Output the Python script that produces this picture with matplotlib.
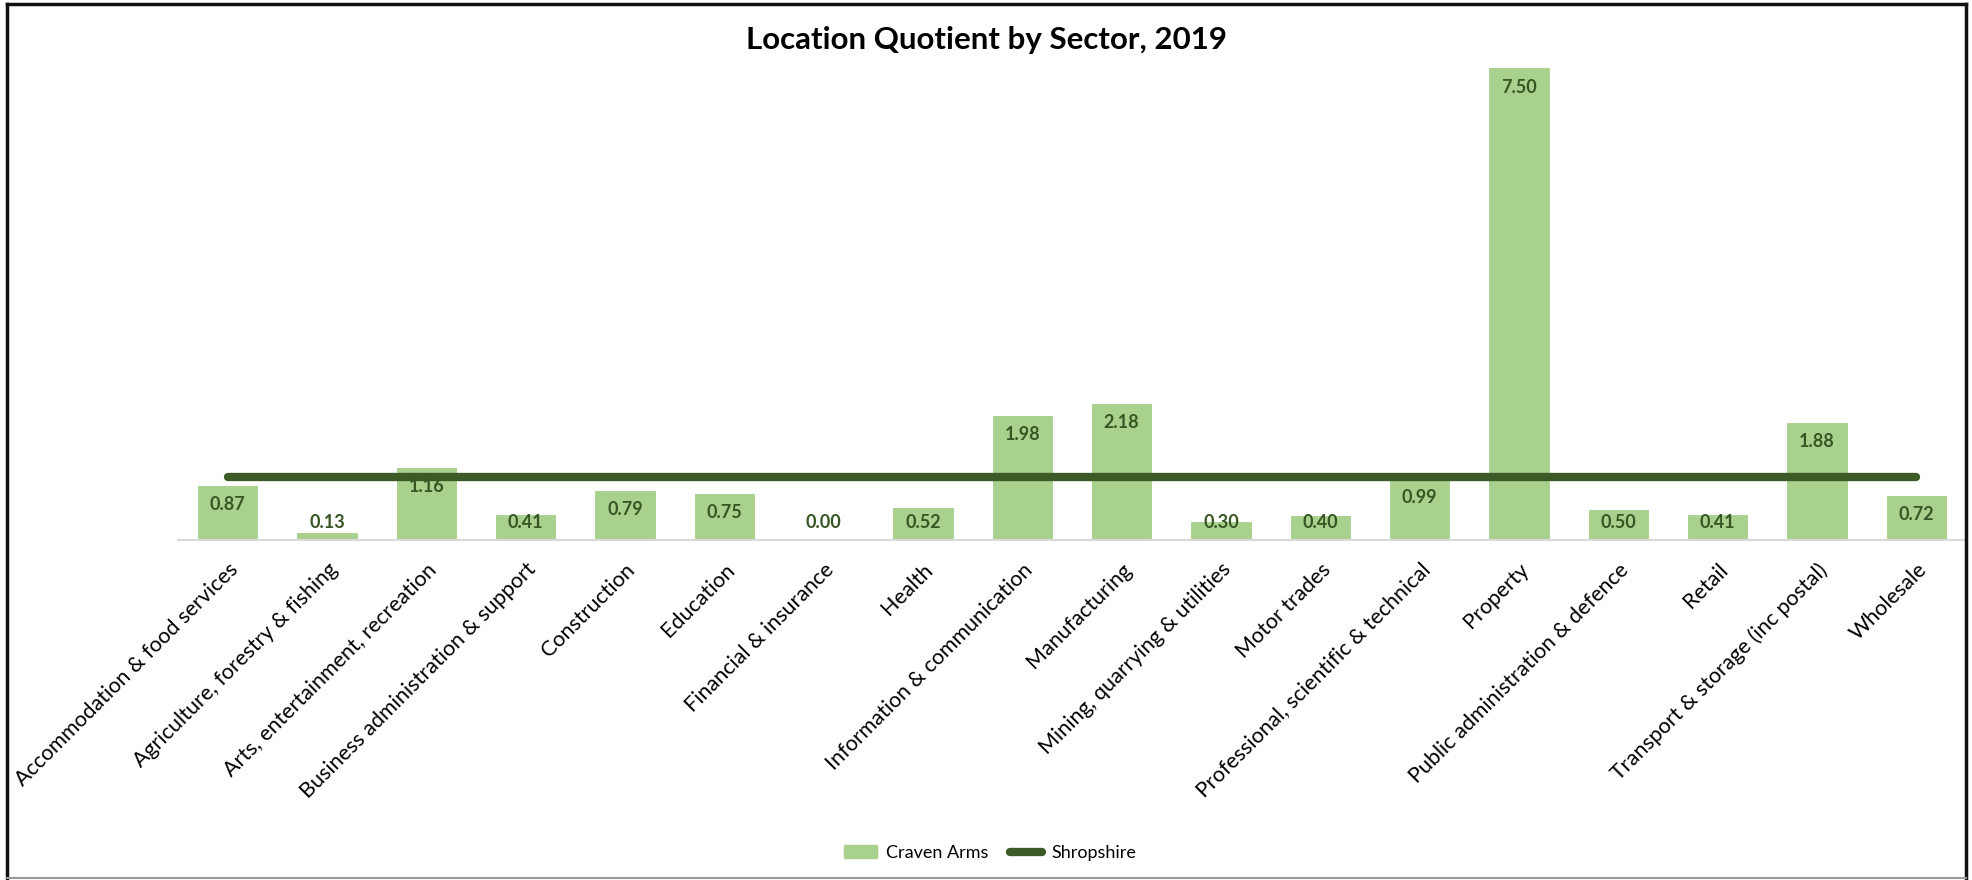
import matplotlib
matplotlib.use("Agg")
import matplotlib.pyplot as plt
from matplotlib.lines import Line2D
from matplotlib.patches import Patch

categories = [
    "Accommodation & food services",
    "Agriculture, forestry & fishing",
    "Arts, entertainment, recreation",
    "Business administration & support",
    "Construction",
    "Education",
    "Financial & insurance",
    "Health",
    "Information & communication",
    "Manufacturing",
    "Mining, quarrying & utilities",
    "Motor trades",
    "Professional, scientific & technical",
    "Property",
    "Public administration & defence",
    "Retail",
    "Transport & storage (inc postal)",
    "Wholesale",
]
craven_arms = [0.87, 0.13, 1.16, 0.41, 0.79, 0.75, 0.00, 0.52, 1.98, 2.18,
               0.30, 0.40, 0.99, 7.50, 0.50, 0.41, 1.88, 0.72]
shropshire = [1.0] * len(categories)

BAR = "#A9D18E"
LINE = "#3B5A25"
LABEL = "#375623"
FONT = "Lato"

plt.rcParams['font.family'] = [FONT, 'DejaVu Sans']

W, H = 1972, 880
fig = plt.figure(figsize=(W / 100, H / 100), dpi=100)
ax = fig.add_axes([178 / W, 1 - 540 / H, (1966 - 178) / W, (540 - 36) / H])

x = list(range(len(categories)))
ax.bar(x, craven_arms, width=0.62, color=BAR, edgecolor="white", linewidth=0.8,
       label="Craven Arms", zorder=2)
ax.plot(x, shropshire, color=LINE, linewidth=6, solid_capstyle="round",
        label="Shropshire", zorder=3)

for xi, v in zip(x, craven_arms):
    y = max(v - 0.31, 0.27)
    ax.text(xi, y, f"{v:.2f}", ha="center", va="center", fontsize=13,
            fontweight="bold", color=LABEL, zorder=4)

ax.set_xlim(-0.5, len(categories) - 0.5)
ax.set_ylim(0, 8)
ax.set_yticks([])
for s in ["left", "right", "top"]:
    ax.spines[s].set_visible(False)
ax.spines["bottom"].set_color("#D9D9D9")
ax.spines["bottom"].set_linewidth(1.5)
ax.set_xticks(x)
ax.set_xticklabels(categories, rotation=45, ha="right", rotation_mode="anchor",
                   fontsize=15.5, color="black")
ax.tick_params(axis="x", length=0, pad=14)

fig.text(987 / W, 1 - 40 / H, "Location Quotient by Sector, 2019",
         ha="center", va="center", fontsize=22.5, fontweight="bold")

handles = [Patch(facecolor=BAR, edgecolor=BAR, label="Craven Arms"),
           Line2D([0], [0], color=LINE, linewidth=6, solid_capstyle="round",
                  label="Shropshire")]
fig.legend(handles=handles, loc="center", bbox_to_anchor=(990 / W, 1 - 853 / H),
           ncol=2, frameon=False, fontsize=13, handlelength=1.8,
           columnspacing=1.2, handletextpad=0.5)

# figure border
lw = 2.5
fig.add_artist(Line2D([7 / W, 7 / W], [2 / H, 1 - 4 / H], color="#111111",
                      linewidth=lw, transform=fig.transFigure))
fig.add_artist(Line2D([7 / W, 1966 / W], [1 - 4 / H, 1 - 4 / H], color="#111111",
                      linewidth=lw, transform=fig.transFigure))
fig.add_artist(Line2D([1966 / W, 1966 / W], [2 / H, 1 - 4 / H], color="#111111",
                      linewidth=lw, transform=fig.transFigure))
fig.add_artist(Line2D([7 / W, 1966 / W], [2 / H, 2 / H], color="#999999",
                      linewidth=1.5, transform=fig.transFigure))

fig.savefig("out.png", dpi=100)
